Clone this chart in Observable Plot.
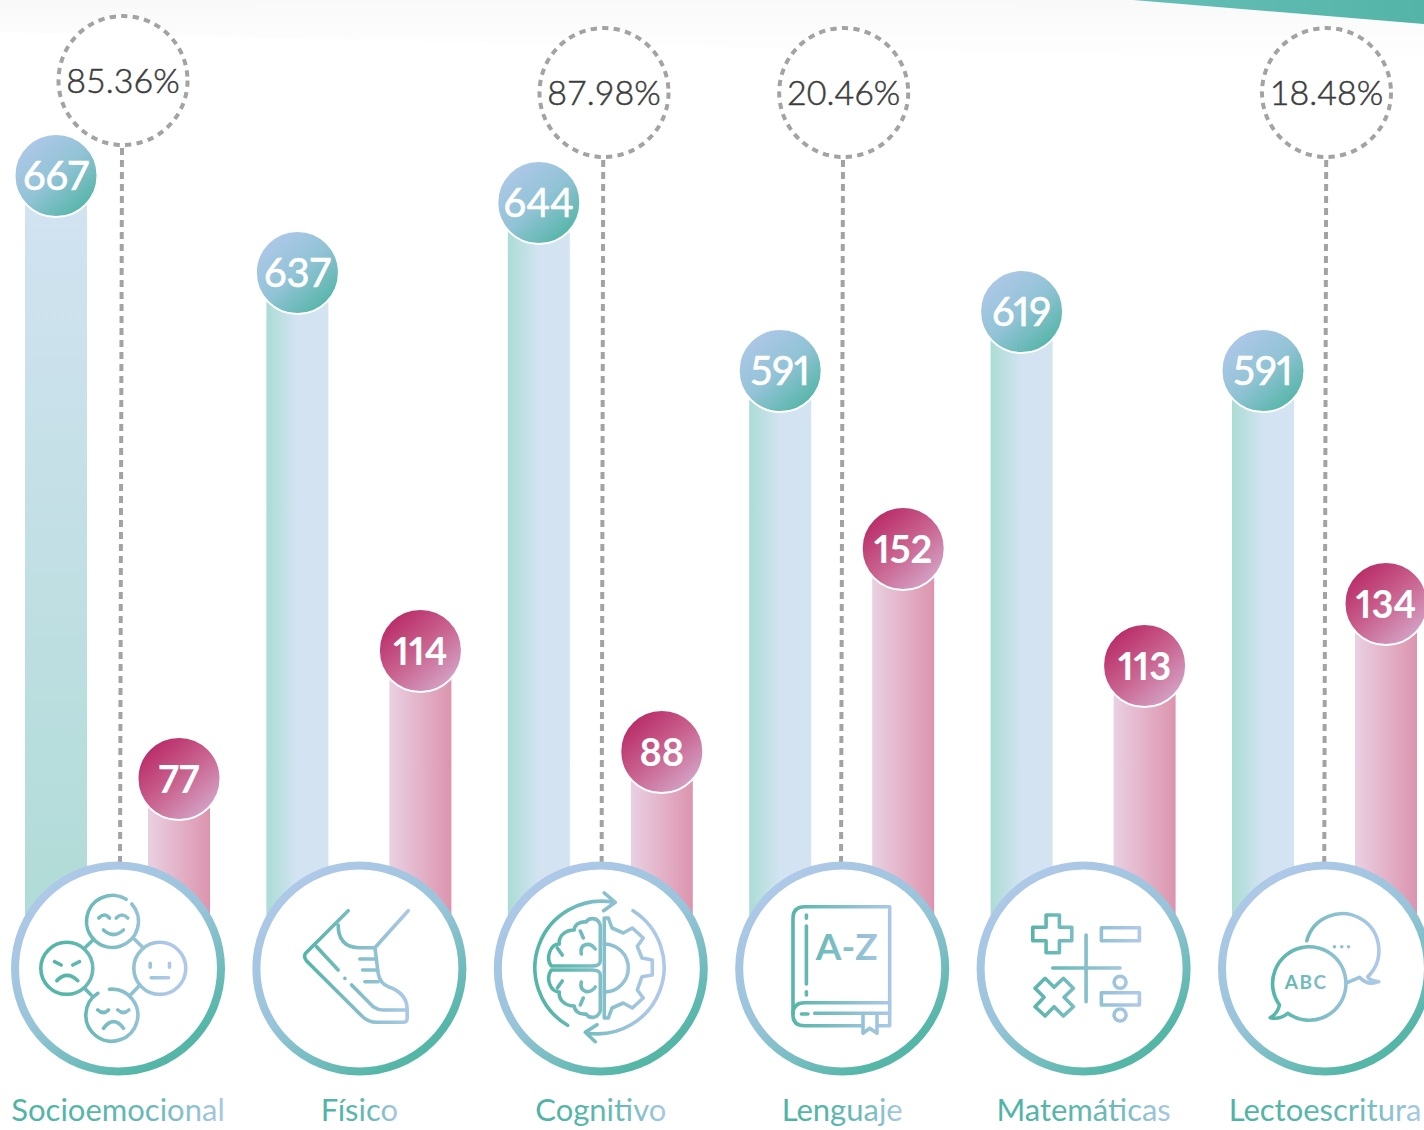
<!DOCTYPE html>
<html lang="es">
<head>
<meta charset="utf-8">
<title>Resultados por dominio</title>
<script src="https://cdn.jsdelivr.net/npm/d3@7"></script>
<script src="https://cdn.jsdelivr.net/npm/@observablehq/plot@0.6"></script>
<style>
  html, body { margin: 0; padding: 0; background: #fff; overflow: hidden; }
  svg { display: block; }
</style>
</head>
<body>
<div id="chart"></div>
<script>
// ---- data ----
const categories = ["Socioemocional", "Físico", "Cognitivo", "Lenguaje", "Matemáticas", "Lectoescritura"];
const blueValues = [667, 637, 644, 591, 619, 591];
const pinkValues = [77, 114, 88, 152, 113, 134];
const percentCategories = ["Socioemocional", "Cognitivo", "Lenguaje", "Lectoescritura"];
const percentLabels = ["85.36%", "87.98%", "20.46%", "18.48%"];

// The source graphic is not drawn to a single linear scale: bar lengths follow this ramp.
const rampValues = [0, 77, 88, 113, 114, 134, 152, 591, 619, 637, 644, 667];
const rampLengths = [0, 190, 217, 303, 318, 365, 420, 598, 657, 696, 766, 793];
const ramp = d3.scaleLinear().domain(rampValues).range(rampLengths);

// ---- tables ----
const blueRows = categories.map((c, i) => ({category: c, value: blueValues[i]}));
const pinkRows = categories.map((c, i) => ({category: c, value: pinkValues[i]}));
const percentRows = percentCategories.map((c, i) => ({category: c, label: percentLabels[i]}));
const hubRows = categories.map(c => ({category: c, base: 0}));

// ---- layout and style constants ----
const FONT = "Lato, sans-serif";
const BLUE_DX = -62, PINK_DX = 61;
const calloutLayout = {
  "Socioemocional": {dx: 5,   cy: 80, lineDx: 4,   skew: -2.5},
  "Cognitivo":      {dx: 3.2, cy: 92, lineDx: 2.4, skew: -2},
  "Lenguaje":       {dx: 1.5, cy: 92, lineDx: 0.8, skew: -2.5},
  "Lectoescritura": {dx: 1.5, cy: 92, lineDx: 1.2, skew: -2.5}
};

function svgEl(tag, attrs, parent) {
  const e = document.createElementNS("http://www.w3.org/2000/svg", tag);
  for (const k in attrs) e.setAttribute(k, attrs[k]);
  if (parent) parent.appendChild(e);
  return e;
}
function linear(defs, id, x1, y1, x2, y2, stops, units) {
  const g = svgEl("linearGradient", {id, x1, y1, x2, y2, gradientUnits: units || "objectBoundingBox"}, defs);
  stops.forEach((c, i) => svgEl("stop", {offset: stops.length === 1 ? 0 : i / (stops.length - 1), "stop-color": c}, g));
}

// gradients and page decoration, behind everything
function backdrop() {
  const g = svgEl("g", {});
  const defs = svgEl("defs", {}, g);
  linear(defs, "barBlue", 0, 0, 1, 0, ["#abdcd4", "#d3e3f2", "#d3e3f2"]);
  linear(defs, "barBlueV", 0, 0, 0, 1, ["#d3e3f2", "#aedbd5"]);
  linear(defs, "barPink", 0, 0, 1, 0, ["#ead0e2", "#dc94ae"]);
  linear(defs, "bubbleBlue", 0.15, 0.1, 0.85, 0.9, ["#aec8e8", "#92c3d6", "#55b5a8"]);
  linear(defs, "bubblePink", 0.15, 0.1, 0.85, 0.9, ["#b92a66", "#c9628f", "#d4a3c6"]);
  linear(defs, "hub", 0.2, 0.1, 0.75, 0.9, ["#aec8e8", "#98c4da", "#55b6a8"]);
  linear(defs, "label", 0, 0, 1, 0, ["#4fb3a6", "#55b5a8", "#6cb9b9", "#a9c8e6"]);
  linear(defs, "icon", -52, 0, 52, 0, ["#55b5a8", "#aec8e8"], "userSpaceOnUse");
  linear(defs, "wedge", 0, 0, 1, 0, ["#66bfb8", "#54b4a7"]);
  linear(defs, "haze", 0, 0, 0, 1, ["#f9f9f9", "#ffffff"]);
  svgEl("polygon", {points: "0,0 1424,0 1424,62 0,32", fill: "url(#haze)"}, g);
  svgEl("polygon", {points: "1133,0 1424,0 1424,24", fill: "url(#wedge)"}, g);
  return g;
}

// line icons, in coordinates local to each hub's centre
const iconPaths = {
  "Socioemocional": [
    "M14.3 -64A26 26 0 1 1 8.7 -68.7",
    "M-18.7 -50Q-13 -56 -8 -50M-1.3 -50Q4.5 -56 10.3 -50M-14 -38Q-4 -29 6 -38",
    "M-24.7 0.3a26 26 0 1 1 -52 0a26 26 0 1 1 52 0",
    "M-63 -6.3L-56.3 -3M-38 -6.3L-44.7 -3M-60.7 12.7Q-50.7 2 -39.7 12.7",
    "M68.3 0.3a26 26 0 1 1 -52 0a26 26 0 1 1 52 0",
    "M32.7 -4.7V-0.7M52 -4.7V-0.7M33.7 9.7H51",
    "M-8 21.3A26 26 0 1 1 -19.7 25.3",
    "M-19.7 42Q-14 47 -9 42M0.3 42Q6 47 11.3 42M-14 60.3Q-4 47 6 60.3",
    "M-32 -20.7L-25.3 -27.3M17 -28.7L24.7 -21.3M-33 20.3L-26.3 27M13.7 26.3L21.3 18.3"
  ],
  "Físico": [
    "M-10.7 -57.3L-53.3 -14.7Q-55.7 -11.3 -52.3 -7L2.7 47.7Q9.3 54.3 17.7 54.3H44.3Q48.3 54.3 48.3 50.3V41.7Q48.3 25 29.3 18.7Q21 15.3 19.3 5.3L16 -20.3L49.3 -57.3",
    "M-20.7 -43Q-20.7 -21.3 -0.7 -20.3H16",
    "M-42.3 -21.3L-20.7 2M-14 10.3V10.4M-7.3 17L14.3 38.7Q19.3 42 24.3 42H48.3",
    "M1 -9H16M3.7 2H17.7M6 13.7H19.3"
  ],
  "Cognitivo": [
    "M-32.7 57.3A66.7 66.7 0 0 1 13.3 -65.7M4 -75L15 -65.7L3.3 -57.3",
    "M32.7 -57.3A66.7 66.7 0 0 1 -13.3 65M-3.3 56.7L-15 64.3L-5 73.7",
    "M0 -7V-43C-3 -52 -12 -50 -14 -46C-22 -47 -26 -42 -26 -38C-35 -38 -42 -32 -41 -24C-50 -24 -55 -10 -49 -2H-8C-3 -2 0 -4 0 -7",
    "M0 7V43C-3 52 -12 50 -14 46C-22 47 -26 42 -26 38C-35 38 -42 32 -41 24C-50 24 -55 10 -49 2H-8C-3 2 0 4 0 7",
    "M-19 -14C-21 -24 -11 -27 -5 -19M-20 -37L-17 -30M-43 -20L-38 -13",
    "M-19 14C-21 24 -11 27 -5 19M-20 37L-17 30M-43 20L-38 13",
    "M4 -50V50M4 -50H8L11.7 -40L23 -35L32 -40L43 -30L37 -21.7L41.7 -10L52 -8V7L41.7 8.7L37 22L43 30L32 40L23 35L11.7 40L8 50H4",
    "M4 -24A24 24 0 0 1 4 24"
  ],
  "Lenguaje": [
    "M48 -61.3H-37Q-48.7 -61.3 -48.7 -49.7V47Q-48.7 57.7 -37 57.7H19.7M36.3 57.7H48V-61.3",
    "M48 34.7H-37Q-48.7 34.7 -48.7 46",
    "M48 45.3H-27M-40.3 46H-33.7",
    "M21.3 47V65.3L28 60.3L35.3 65.3V47",
    "M-35.3 -53V-49.7M-35.3 -42V16M-35.3 23.7V27"
  ],
  "Matemáticas": [
    "M-37 -53H-23.7V-40.7H-11.3V-27.3H-23.7V-15.3H-37V-27.3H-50.3V-40.7H-37Z",
    "M18.3 -40.3H56.3V-27.3H18.3Z",
    "M3 -33V33.7M-30.3 0H37",
    "M-38 10.3L-29 19.3L-19.7 10.3L-9.7 20.3L-19 29.3L-9.7 38.7L-19.7 48L-29 38.7L-38 48L-48 38.7L-39 29.3L-48 20.3Z",
    "M18.3 24.7H56.3V37H18.3Z",
    "M43 14.3a6 6 0 1 1 -12 0a6 6 0 1 1 12 0M43 47a6 6 0 1 1 -12 0a6 6 0 1 1 12 0"
  ],
  "Lectoescritura": [
    "M-36.7 45.3A36.7 36.7 0 1 0 -45 37Q-46.7 45.3 -54.3 49.7Q-45 52 -36.7 45.3",
    "M-17.7 -27.3A36.7 36.7 0 1 1 43.3 8.7Q45 12.7 54.3 13.7Q43.3 18.3 35 9.3L23.3 14.3",
    "M10 -21.3V-21.2M17.3 -21.3V-21.2M24 -21.3V-21.2"
  ]
};
const iconTexts = {
  "Lenguaje": {text: "A-Z", x: 5, y: -8, size: 37, weight: 700},
  "Lectoescritura": {text: "ABC", x: -18.3, y: 21, size: 19, weight: 700, spacing: 1.6}
};

function icons(index, scales) {
  const g = svgEl("g", {fill: "none", stroke: "url(#icon)", "stroke-width": 3.6, "stroke-linecap": "round", "stroke-linejoin": "round"});
  const half = (scales.x(categories[1]) - scales.x(categories[0])) / 2;
  categories.forEach(c => {
    const t = svgEl("g", {transform: `translate(${scales.x(c) + half},${scales.y(0)})`}, g);
    iconPaths[c].forEach(d => svgEl("path", {d}, t));
    const label = iconTexts[c];
    if (label) {
      const txt = svgEl("text", {
        x: label.x, y: label.y, "text-anchor": "middle", fill: "url(#icon)", stroke: "none",
        "font-family": FONT, "font-size": label.size, "font-weight": label.weight,
        "letter-spacing": label.spacing || 0
      }, t);
      txt.textContent = label.text;
    }
  });
  return g;
}

// a slight lean of the dashed leaders, as in the source
function lean(amount) {
  return (index, scales, values, dimensions, context, next) => {
    const g = next(index, scales, values, dimensions, context);
    g.querySelectorAll("line").forEach(l => l.setAttribute("x2", +l.getAttribute("x2") + amount));
    return g;
  };
}

const calloutMarks = percentRows.flatMap(row => {
  const L = calloutLayout[row.category];
  const one = [row];
  return [
    Plot.ruleX(one, {
      x: "category", dx: L.lineDx, insetTop: L.cy + 68, insetBottom: 28,
      stroke: "#a3a3a3", strokeWidth: 4, strokeDasharray: "7 5", render: lean(L.skew)
    }),
    Plot.dot(one, {
      x: "category", frameAnchor: "top", dx: L.dx, dy: L.cy, r: 64.5,
      stroke: "#a3a3a3", strokeWidth: 4, strokeDasharray: "6.3 5.3", fill: "#fff"
    }),
    Plot.text(one, {
      x: "category", frameAnchor: "top", dx: L.dx, dy: L.cy + 2, text: "label",
      fontSize: 34, fontWeight: 300, fill: "#3c3c3c", stroke: "#3c3c3c", strokeWidth: 0.5, lineAnchor: "middle"
    })
  ];
});

// band edges are centre ± 120.7; the insets leave the two 62px bars
const blueBarInsets = {insetLeft: 28.2, insetRight: 151.2};
const pinkBarInsets = {insetLeft: 151.2, insetRight: 28.2};

const chart = Plot.plot({
  width: 1424,
  height: 1130,
  marginTop: 0, marginLeft: 0, marginRight: 0, marginBottom: 40,
  style: {background: "#fff", fontFamily: FONT},
  x: {domain: categories, range: [-3.2, 1445.2], padding: 0, round: false, axis: null},
  y: {transform: v => ramp(v), domain: [0, 793], range: [968, 175], axis: null},
  marks: [
    backdrop,
    Plot.barY(blueRows.slice(0, 1), {x: "category", y: "value", fill: "url(#barBlueV)", ...blueBarInsets}),
    Plot.barY(blueRows.slice(1), {x: "category", y: "value", fill: "url(#barBlue)", ...blueBarInsets}),
    Plot.barY(pinkRows, {x: "category", y: "value", fill: "url(#barPink)", ...pinkBarInsets}),
    ...calloutMarks,
    Plot.dot(hubRows, {x: "category", y: "base", r: 103, fill: "#fff", stroke: "url(#hub)", strokeWidth: 8}),
    icons,
    Plot.dot(blueRows, {x: "category", y: "value", dx: BLUE_DX, r: 41.5, fill: "url(#bubbleBlue)", stroke: "#fff", strokeWidth: 2}),
    Plot.dot(pinkRows, {x: "category", y: "value", dx: PINK_DX, r: 41.5, fill: "url(#bubblePink)", stroke: "#fff", strokeWidth: 2}),
    Plot.text(blueRows, {x: "category", y: "value", dx: BLUE_DX, dy: 2, text: "value", fill: "#fff", stroke: "#fff", strokeWidth: 0.6, fontSize: 40, fontWeight: 400, fontVariant: "proportional-nums"}),
    Plot.text(pinkRows, {x: "category", y: "value", dx: PINK_DX, dy: 2, text: "value", fill: "#fff", fontSize: 38, fontWeight: 700, fontVariant: "proportional-nums"}),
    Plot.axisX({anchor: "bottom", tickSize: 0, tickPadding: 8, fontSize: 31, fontWeight: 400, fill: "url(#label)", label: null})
  ]
});
document.getElementById("chart").appendChild(chart);
</script>
</body>
</html>
